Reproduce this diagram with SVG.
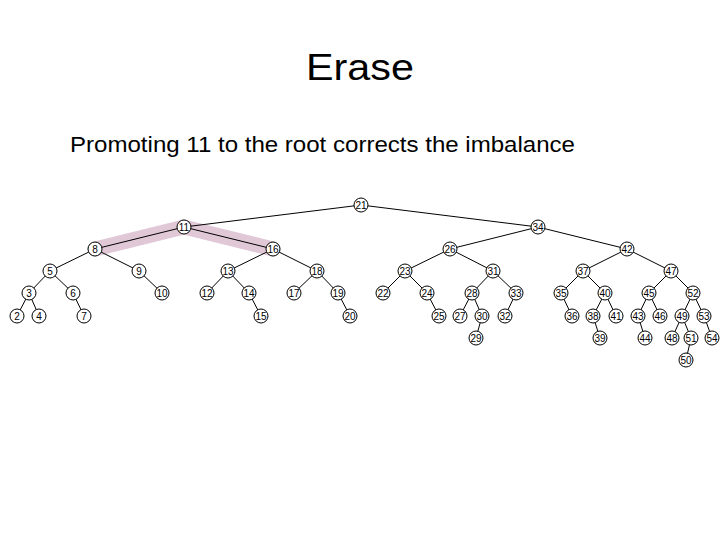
<svg xmlns="http://www.w3.org/2000/svg" width="720" height="540" viewBox="0 0 720 540">
<style>
.e{stroke:#000;stroke-width:1;fill:none}
.hl{stroke:#e0c8d6;stroke-width:15;stroke-linecap:round;stroke-linejoin:round;fill:none}
.n circle{fill:#fff;stroke:#000;stroke-width:1}
.n text{font-family:"Liberation Sans",Arial,sans-serif;font-size:10px;fill:#000;text-anchor:middle;dominant-baseline:central}
.t{font-family:"Liberation Sans",Arial,sans-serif;fill:#000}
</style>
<rect width="720" height="540" fill="#fff"/>
<text class="t" x="360" y="80" font-size="36" text-anchor="middle" textLength="108" lengthAdjust="spacingAndGlyphs">Erase</text>
<text class="t" x="70" y="152" font-size="22" textLength="505" lengthAdjust="spacingAndGlyphs">Promoting 11 to the root corrects the imbalance</text>
<g id="highlight">
<polyline class="hl" points="95,249 184,227 273,249"/>
</g>
<g id="connectors" class="e">
<line x1="361" y1="205" x2="184" y2="227"/>
<line x1="361" y1="205" x2="538" y2="227"/>
<line x1="184" y1="227" x2="95" y2="249"/>
<line x1="184" y1="227" x2="273" y2="249"/>
<line x1="538" y1="227" x2="450" y2="249"/>
<line x1="538" y1="227" x2="627" y2="249"/>
<line x1="95" y1="249" x2="50" y2="271"/>
<line x1="95" y1="249" x2="139" y2="271"/>
<line x1="273" y1="249" x2="228" y2="271"/>
<line x1="273" y1="249" x2="317" y2="271"/>
<line x1="450" y1="249" x2="405" y2="271"/>
<line x1="450" y1="249" x2="493" y2="271"/>
<line x1="627" y1="249" x2="583" y2="271"/>
<line x1="627" y1="249" x2="671" y2="271"/>
<line x1="50" y1="271" x2="29" y2="293"/>
<line x1="50" y1="271" x2="73" y2="293"/>
<line x1="139" y1="271" x2="162" y2="293"/>
<line x1="228" y1="271" x2="207" y2="293"/>
<line x1="228" y1="271" x2="249" y2="293"/>
<line x1="317" y1="271" x2="294" y2="293"/>
<line x1="317" y1="271" x2="338" y2="293"/>
<line x1="405" y1="271" x2="383" y2="293"/>
<line x1="405" y1="271" x2="427" y2="293"/>
<line x1="493" y1="271" x2="472" y2="293"/>
<line x1="493" y1="271" x2="516" y2="293"/>
<line x1="583" y1="271" x2="561" y2="293"/>
<line x1="583" y1="271" x2="605" y2="293"/>
<line x1="671" y1="271" x2="649" y2="293"/>
<line x1="671" y1="271" x2="693" y2="293"/>
<line x1="29" y1="293" x2="17" y2="316"/>
<line x1="29" y1="293" x2="39" y2="316"/>
<line x1="73" y1="293" x2="84" y2="316"/>
<line x1="249" y1="293" x2="261" y2="316"/>
<line x1="338" y1="293" x2="350" y2="316"/>
<line x1="427" y1="293" x2="439" y2="316"/>
<line x1="472" y1="293" x2="460" y2="316"/>
<line x1="472" y1="293" x2="482" y2="316"/>
<line x1="516" y1="293" x2="505" y2="316"/>
<line x1="561" y1="293" x2="572" y2="316"/>
<line x1="605" y1="293" x2="593" y2="316"/>
<line x1="605" y1="293" x2="616" y2="316"/>
<line x1="649" y1="293" x2="638" y2="316"/>
<line x1="649" y1="293" x2="660" y2="316"/>
<line x1="693" y1="293" x2="682" y2="316"/>
<line x1="693" y1="293" x2="704" y2="316"/>
<line x1="482" y1="316" x2="476" y2="338"/>
<line x1="593" y1="316" x2="600" y2="338"/>
<line x1="638" y1="316" x2="645" y2="338"/>
<line x1="682" y1="316" x2="672" y2="338"/>
<line x1="682" y1="316" x2="691" y2="338"/>
<line x1="704" y1="316" x2="712" y2="338"/>
<line x1="691" y1="338" x2="686" y2="360"/>
</g>
<g id="n21" class="n"><circle cx="361" cy="205" r="7"/><text x="361" y="205">21</text></g>
<g id="n11" class="n"><circle cx="184" cy="227" r="7"/><text x="184" y="227">11</text></g>
<g id="n34" class="n"><circle cx="538" cy="227" r="7"/><text x="538" y="227">34</text></g>
<g id="n8" class="n"><circle cx="95" cy="249" r="7"/><text x="95" y="249">8</text></g>
<g id="n16" class="n"><circle cx="273" cy="249" r="7"/><text x="273" y="249">16</text></g>
<g id="n26" class="n"><circle cx="450" cy="249" r="7"/><text x="450" y="249">26</text></g>
<g id="n42" class="n"><circle cx="627" cy="249" r="7"/><text x="627" y="249">42</text></g>
<g id="n5" class="n"><circle cx="50" cy="271" r="7"/><text x="50" y="271">5</text></g>
<g id="n9" class="n"><circle cx="139" cy="271" r="7"/><text x="139" y="271">9</text></g>
<g id="n13" class="n"><circle cx="228" cy="271" r="7"/><text x="228" y="271">13</text></g>
<g id="n18" class="n"><circle cx="317" cy="271" r="7"/><text x="317" y="271">18</text></g>
<g id="n23" class="n"><circle cx="405" cy="271" r="7"/><text x="405" y="271">23</text></g>
<g id="n31" class="n"><circle cx="493" cy="271" r="7"/><text x="493" y="271">31</text></g>
<g id="n37" class="n"><circle cx="583" cy="271" r="7"/><text x="583" y="271">37</text></g>
<g id="n47" class="n"><circle cx="671" cy="271" r="7"/><text x="671" y="271">47</text></g>
<g id="n3" class="n"><circle cx="29" cy="293" r="7"/><text x="29" y="293">3</text></g>
<g id="n6" class="n"><circle cx="73" cy="293" r="7"/><text x="73" y="293">6</text></g>
<g id="n10" class="n"><circle cx="162" cy="293" r="7"/><text x="162" y="293">10</text></g>
<g id="n12" class="n"><circle cx="207" cy="293" r="7"/><text x="207" y="293">12</text></g>
<g id="n14" class="n"><circle cx="249" cy="293" r="7"/><text x="249" y="293">14</text></g>
<g id="n17" class="n"><circle cx="294" cy="293" r="7"/><text x="294" y="293">17</text></g>
<g id="n19" class="n"><circle cx="338" cy="293" r="7"/><text x="338" y="293">19</text></g>
<g id="n22" class="n"><circle cx="383" cy="293" r="7"/><text x="383" y="293">22</text></g>
<g id="n24" class="n"><circle cx="427" cy="293" r="7"/><text x="427" y="293">24</text></g>
<g id="n28" class="n"><circle cx="472" cy="293" r="7"/><text x="472" y="293">28</text></g>
<g id="n33" class="n"><circle cx="516" cy="293" r="7"/><text x="516" y="293">33</text></g>
<g id="n35" class="n"><circle cx="561" cy="293" r="7"/><text x="561" y="293">35</text></g>
<g id="n40" class="n"><circle cx="605" cy="293" r="7"/><text x="605" y="293">40</text></g>
<g id="n45" class="n"><circle cx="649" cy="293" r="7"/><text x="649" y="293">45</text></g>
<g id="n52" class="n"><circle cx="693" cy="293" r="7"/><text x="693" y="293">52</text></g>
<g id="n2" class="n"><circle cx="17" cy="316" r="7"/><text x="17" y="316">2</text></g>
<g id="n4" class="n"><circle cx="39" cy="316" r="7"/><text x="39" y="316">4</text></g>
<g id="n7" class="n"><circle cx="84" cy="316" r="7"/><text x="84" y="316">7</text></g>
<g id="n15" class="n"><circle cx="261" cy="316" r="7"/><text x="261" y="316">15</text></g>
<g id="n20" class="n"><circle cx="350" cy="316" r="7"/><text x="350" y="316">20</text></g>
<g id="n25" class="n"><circle cx="439" cy="316" r="7"/><text x="439" y="316">25</text></g>
<g id="n27" class="n"><circle cx="460" cy="316" r="7"/><text x="460" y="316">27</text></g>
<g id="n30" class="n"><circle cx="482" cy="316" r="7"/><text x="482" y="316">30</text></g>
<g id="n32" class="n"><circle cx="505" cy="316" r="7"/><text x="505" y="316">32</text></g>
<g id="n36" class="n"><circle cx="572" cy="316" r="7"/><text x="572" y="316">36</text></g>
<g id="n38" class="n"><circle cx="593" cy="316" r="7"/><text x="593" y="316">38</text></g>
<g id="n41" class="n"><circle cx="616" cy="316" r="7"/><text x="616" y="316">41</text></g>
<g id="n43" class="n"><circle cx="638" cy="316" r="7"/><text x="638" y="316">43</text></g>
<g id="n46" class="n"><circle cx="660" cy="316" r="7"/><text x="660" y="316">46</text></g>
<g id="n49" class="n"><circle cx="682" cy="316" r="7"/><text x="682" y="316">49</text></g>
<g id="n53" class="n"><circle cx="704" cy="316" r="7"/><text x="704" y="316">53</text></g>
<g id="n29" class="n"><circle cx="476" cy="338" r="7"/><text x="476" y="338">29</text></g>
<g id="n39" class="n"><circle cx="600" cy="338" r="7"/><text x="600" y="338">39</text></g>
<g id="n44" class="n"><circle cx="645" cy="338" r="7"/><text x="645" y="338">44</text></g>
<g id="n48" class="n"><circle cx="672" cy="338" r="7"/><text x="672" y="338">48</text></g>
<g id="n51" class="n"><circle cx="691" cy="338" r="7"/><text x="691" y="338">51</text></g>
<g id="n54" class="n"><circle cx="712" cy="338" r="7"/><text x="712" y="338">54</text></g>
<g id="n50" class="n"><circle cx="686" cy="360" r="7"/><text x="686" y="360">50</text></g>
</svg>
